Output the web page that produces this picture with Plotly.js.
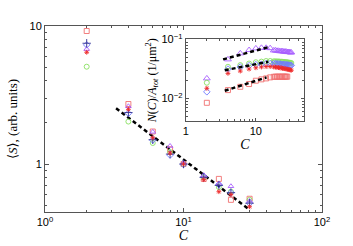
<!DOCTYPE html>
<html>
<head>
<meta charset="utf-8">
<script src="https://cdn.plot.ly/plotly-3.0.1.min.js"></script>
<style>html,body{margin:0;padding:0;background:#fff;}#chart{width:353px;height:246px;}</style>
</head>
<body>
<div id="chart"></div>
<script>
// ---- main panel: <S> vs C ----
var mainC = [2, 4, 6, 8, 10, 14, 18, 22, 30];
var mainSquare   = [9.2, 2.72, 1.72, 1.28, 1.0, 0.78, 0.78, 0.55, 0.56];
var mainCircle   = [5.07, 2.03, 1.42, 1.22, 1.0, 0.80, 0.68, 0.63, 0.55];
var mainDiamond  = [7.3, 2.33, 1.49, 1.16, 0.99, 0.81, 0.71, 0.62, 0.52];
var mainTriangle = [6.8, 2.62, 1.71, 1.35, 1.02, 0.83, 0.72, 0.69, 0.54];
var mainStar     = [6.45, 2.49, 1.55, 1.20, 1.0, 0.77, 0.63, 0.60, 0.49];
var mainPlus     = [7.5, 2.36, 1.50, 1.18, 1.0, 0.80, 0.70, 0.62, 0.52];
var mainFitC = [3.26, 30.2];
var mainFitS = [2.53, 0.464];

// ---- inset: N(C)/A_tot vs C ----
var insetC = [2, 4, 6, 8, 10, 12, 14, 16, 18, 19, 20, 21, 22, 23, 24, 25, 26, 27, 28, 29, 30, 31, 32];
var insetTriangle = [0.0218, 0.0458, 0.058, 0.066, 0.0703, 0.072, 0.072, 0.071, 0.065, 0.065, 0.064, 0.064, 0.063, 0.063, 0.063, 0.062, 0.062, 0.062, 0.061, 0.061, 0.061, 0.060, 0.060];
var insetCircle   = [0.0184, 0.0343, 0.0366, 0.039, 0.041, 0.042, 0.043, 0.043, 0.0425, 0.0424, 0.0423, 0.0422, 0.042, 0.0418, 0.0416, 0.0414, 0.0412, 0.041, 0.0408, 0.0405, 0.0402, 0.040, 0.0398];
var insetDiamond  = [0.0129, 0.0314, 0.034, 0.036, 0.0374, 0.038, 0.039, 0.039, 0.0388, 0.0387, 0.0386, 0.0384, 0.0382, 0.038, 0.0378, 0.0376, 0.0374, 0.0372, 0.037, 0.0368, 0.0366, 0.0364, 0.0362];
var insetStar     = [0.0148, 0.0265, 0.029, 0.0314, 0.033, 0.034, 0.0346, 0.0346, 0.034, 0.0338, 0.0335, 0.0332, 0.033, 0.0327, 0.0324, 0.0321, 0.0318, 0.0315, 0.0312, 0.0309, 0.0306, 0.0303, 0.030];
var insetSquare   = [0.0084, 0.0138, 0.0157, 0.0175, 0.0199, 0.021, 0.0218, 0.0227, 0.0232, 0.0233, 0.0233, 0.0233, 0.0233, 0.0233, 0.0233, 0.0233, 0.0233, 0.0233, 0.0233, null, null, null, null];
var fitTopC = [3.41, 15.8], fitTopN = [0.0458, 0.075];
var fitMidC = [3.6, 15.0],  fitMidN = [0.030, 0.0417];
var fitBotC = [3.6, 14.2],  fitBotN = [0.01345, 0.0227];

var colSquare = '#f07070', colCircle = '#88e060', colDiamond = '#6f78ff',
    colTriangle = '#a860ff', colStar = '#ee2a2a', colPlus = '#303090';

function pts(x, y, sym, col, size, xa, ya) {
  return {x: x, y: y, type: 'scatter', mode: 'markers', xaxis: xa, yaxis: ya,
    marker: {symbol: sym, size: size, color: col, line: {color: col, width: 0.9}},
    hoverinfo: 'none', showlegend: false};
}
function fit(x, y, xa, ya, w) {
  return {x: x, y: y, type: 'scatter', mode: 'lines', xaxis: xa, yaxis: ya,
    line: {color: '#000', width: w, dash: '4px,3px'}, hoverinfo: 'none', showlegend: false};
}

var data = [
  fit(mainFitC, mainFitS, 'x', 'y', 2.5),
  pts(mainC, mainSquare, 'square-open', colSquare, 5, 'x', 'y'),
  pts(mainC, mainCircle, 'circle-open', colCircle, 5, 'x', 'y'),
  pts(mainC, mainDiamond, 'diamond-open', colDiamond, 5, 'x', 'y'),
  pts(mainC, mainTriangle, 'triangle-up-open', colTriangle, 5, 'x', 'y'),
  pts(mainC, mainPlus, 'cross-thin-open', colPlus, 6, 'x', 'y'),
  pts(mainC, mainStar, 'asterisk-open', colStar, 4, 'x', 'y'),

  pts(insetC, insetSquare, 'square-open', colSquare, 5, 'x2', 'y2'),
  pts(insetC, insetTriangle, 'triangle-up-open', colTriangle, 6, 'x2', 'y2'),
  pts(insetC, insetCircle, 'circle-open', colCircle, 5, 'x2', 'y2'),
  pts(insetC, insetDiamond, 'diamond-open', colDiamond, 5, 'x2', 'y2'),
  pts(insetC, insetStar, 'asterisk-open', colStar, 4, 'x2', 'y2'),
  fit(fitTopC, fitTopN, 'x2', 'y2', 2.5),
  fit(fitMidC, fitMidN, 'x2', 'y2', 2.5),
  fit(fitBotC, fitBotN, 'x2', 'y2', 2.5)
];

var tickFont = {family: 'Liberation Sans, Arial, sans-serif', size: 11, color: '#000'};
var serif = 'Liberation Serif, DejaVu Serif, serif';
var axCol = '#555';
var minorLog = [2,3,4,5,6,7,8,9,20,30,40,50,60,70,80,90];
var minorLogY = [0.5,0.6,0.7,0.8,0.9,2,3,4,5,6,7,8,9];
var minorLogY2 = [0.005,0.006,0.007,0.008,0.009,0.02,0.03,0.04,0.05,0.06,0.07,0.08,0.09];

var layout = {
  width: 353, height: 246,
  margin: {l: 45, r: 31, t: 26, b: 34},
  paper_bgcolor: '#fff', plot_bgcolor: '#fff',
  xaxis: {
    type: 'log', range: [0, 2], domain: [0, 1],
    showline: true, linecolor: axCol, linewidth: 1, mirror: 'ticks',
    ticks: 'inside', ticklen: 4, tickcolor: axCol, showgrid: false, zeroline: false,
    tickmode: 'array', tickvals: [1, 10, 100], ticktext: ['10<sup>0</sup>', '10<sup>1</sup>', '10<sup>2</sup>'],
    tickfont: tickFont,
    minor: {tickmode: 'array', tickvals: minorLog, ticks: 'inside', ticklen: 2, tickcolor: axCol, showgrid: false},
    title: {text: '<i>C</i>', font: {family: serif, size: 14, color: '#000'}, standoff: 1}
  },
  yaxis: {
    type: 'log', range: [Math.log10(0.449), 1], domain: [0, 1],
    showline: true, linecolor: axCol, linewidth: 1, mirror: 'ticks',
    ticks: 'inside', ticklen: 4, tickcolor: axCol, showgrid: false, zeroline: false,
    tickmode: 'array', tickvals: [1, 10], ticktext: ['1', '10'],
    tickfont: tickFont,
    minor: {tickmode: 'array', tickvals: minorLogY, ticks: 'inside', ticklen: 2, tickcolor: axCol, showgrid: false},
    title: {text: '⟨<i>S</i>⟩, (arb. units)', font: {family: serif, size: 13, color: '#000'}, standoff: 8}
  },
  xaxis2: {
    type: 'log', range: [0, 1.69], domain: [0.508, 0.936], anchor: 'y2',
    showline: true, linecolor: axCol, linewidth: 1, mirror: 'ticks',
    ticks: 'inside', ticklen: 3, tickcolor: axCol, showgrid: false, zeroline: false,
    tickmode: 'array', tickvals: [1, 10], ticktext: ['1', '10'],
    tickfont: tickFont,
    minor: {tickmode: 'array', tickvals: minorLog, ticks: 'inside', ticklen: 2, tickcolor: axCol, showgrid: false},
    title: {text: '<i>C</i>', font: {family: serif, size: 14, color: '#000'}, standoff: 0}
  },
  yaxis2: {
    type: 'log', range: [-2.385, -1], domain: [0.489, 0.928], anchor: 'x2',
    showline: true, linecolor: axCol, linewidth: 1, mirror: 'ticks',
    ticks: 'inside', ticklen: 3, tickcolor: axCol, showgrid: false, zeroline: false,
    tickmode: 'array', tickvals: [0.01, 0.1], ticktext: ['10<sup>−2</sup>', '10<sup>−1</sup>'],
    tickfont: tickFont,
    minor: {tickmode: 'array', tickvals: minorLogY2, ticks: 'inside', ticklen: 2, tickcolor: axCol, showgrid: false},
    title: {text: '<i>N</i>(<i>C</i>)/<i>A<sub>tot</sub></i> (1/μm<sup>2</sup>)', font: {family: serif, size: 12, color: '#000'}, standoff: 2}
  }
};

Plotly.newPlot('chart', data, layout, {displayModeBar: false, staticPlot: true});
</script>
</body>
</html>
